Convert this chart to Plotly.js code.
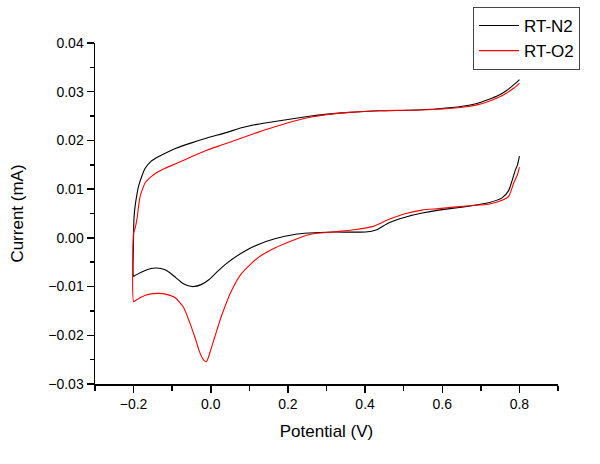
<!DOCTYPE html>
<html>
<head>
<meta charset="utf-8">
<script src="https://cdn.plot.ly/plotly-3.0.1.min.js"></script>
<style>html,body{margin:0;padding:0;background:#fff;}#chart{width:600px;height:464px;}</style>
</head>
<body>
<div id="chart"></div>
<script>
// RT-N2 (black): reverse scan from 0.8 V down to -0.2 V, then forward scan back to 0.8 V
const potentialN2 = [
  0.800,0.795,0.789,0.780,0.772,0.755,0.720,0.669,0.591,0.548,0.506,0.462,0.428,0.402,0.316,0.256,0.217,0.166,0.122,0.080,0.037,0.015,-0.005,-0.025,-0.045,-0.060,-0.075,-0.090,-0.105,-0.120,-0.140,-0.155,-0.170,-0.196,-0.200,
  -0.200,-0.199,-0.196,-0.187,-0.178,-0.170,-0.155,-0.135,-0.110,-0.090,-0.050,-0.010,0.040,0.080,0.120,0.166,0.217,0.260,0.290,0.350,0.437,0.514,0.591,0.652,0.690,0.720,0.745,0.764,0.785,0.800
];
const currentN2 = [
  0.0168,0.0150,0.0138,0.0115,0.0097,0.0082,0.0072,0.0065,0.0057,0.0051,0.0043,0.0031,0.0016,0.0012,0.0012,0.0010,0.0007,-0.0002,-0.0014,-0.0031,-0.0055,-0.0071,-0.0086,-0.0096,-0.0100,-0.0098,-0.0092,-0.0082,-0.0072,-0.0065,-0.0062,-0.0063,-0.0067,-0.0077,-0.0079,
  0.0003,0.0040,0.0065,0.0106,0.0128,0.0143,0.0157,0.0167,0.0177,0.0184,0.0195,0.0205,0.0216,0.0226,0.0233,0.0239,0.0245,0.0250,0.0253,0.0257,0.0261,0.0262,0.0265,0.0270,0.0276,0.0284,0.0292,0.0301,0.0314,0.0325
];
// RT-O2 (red)
const potentialO2 = [
  0.800,0.795,0.785,0.772,0.755,0.720,0.669,0.591,0.548,0.506,0.462,0.419,0.376,0.316,0.256,0.217,0.166,0.122,0.080,0.054,0.028,0.011,0.000,-0.006,-0.011,-0.017,-0.023,-0.030,-0.037,-0.045,-0.054,-0.071,-0.092,-0.115,-0.135,-0.155,-0.170,-0.196,-0.200,
  -0.200,-0.196,-0.191,-0.187,-0.183,-0.176,-0.170,-0.155,-0.140,-0.118,-0.088,-0.049,-0.010,0.030,0.080,0.120,0.166,0.217,0.260,0.300,0.350,0.437,0.514,0.591,0.652,0.690,0.720,0.745,0.764,0.785,0.800
];
const currentO2 = [
  0.0145,0.0130,0.0112,0.0085,0.0077,0.0069,0.0066,0.0060,0.0057,0.0050,0.0038,0.0023,0.0017,0.0012,0.0007,-0.0004,-0.0021,-0.0041,-0.0073,-0.0108,-0.0160,-0.0202,-0.0230,-0.0245,-0.0254,-0.0252,-0.0245,-0.0232,-0.0214,-0.0195,-0.0175,-0.0142,-0.0123,-0.0116,-0.0114,-0.0115,-0.0118,-0.0129,-0.0131,
  0.0010,0.0020,0.0040,0.0065,0.0085,0.0102,0.0113,0.0125,0.0134,0.0143,0.0153,0.0167,0.0180,0.0191,0.0205,0.0216,0.0228,0.0240,0.0248,0.0253,0.0257,0.0261,0.0262,0.0264,0.0268,0.0273,0.0280,0.0288,0.0296,0.0307,0.0317
];
const seriesNames = ['RT-N2', 'RT-O2'];
const xTickVals = [-0.2, 0.0, 0.2, 0.4, 0.6, 0.8];
const yTickVals = [-0.03, -0.02, -0.01, 0.00, 0.01, 0.02, 0.03, 0.04];

const font = 'Liberation Sans, Arial, sans-serif';
const data = [
  {x: potentialN2, y: currentN2, type: 'scatter', mode: 'lines', name: seriesNames[0],
   line: {color: '#000000', width: 1.1, shape: 'spline', smoothing: 0.6}},
  {x: potentialO2, y: currentO2, type: 'scatter', mode: 'lines', name: seriesNames[1],
   line: {color: '#ff0000', width: 1.1, shape: 'spline', smoothing: 0.6}}
];
const layout = {
  width: 600, height: 464,
  margin: {l: 95, r: 42, t: 43, b: 80, autoexpand: false},
  paper_bgcolor: '#ffffff', plot_bgcolor: '#ffffff',
  font: {family: font, color: '#000', size: 14},
  showlegend: true,
  legend: {x: (473 - 95) / 463, y: 1 + (43 - 7) / 341, xanchor: 'left', yanchor: 'top',
    bgcolor: '#ffffff', bordercolor: '#444', borderwidth: 1, itemwidth: 40,
    font: {family: font, size: 17, color: '#000'}, tracegroupgap: 0},
  xaxis: {
    range: [-0.3, 0.9], showgrid: false, zeroline: false,
    showline: true, linecolor: '#000', linewidth: 1.5,
    ticks: 'outside', ticklen: 7, tickwidth: 1.5, tickcolor: '#000',
    tickvals: xTickVals, tickformat: '.1f',
    minor: {dtick: 0.1, tick0: -0.3, ticks: 'outside', ticklen: 5, tickwidth: 1.5, tickcolor: '#000', showgrid: false},
    tickfont: {family: font, size: 14},
    title: {text: 'Potential (V)', font: {family: font, size: 17}, standoff: 14}
  },
  yaxis: {
    range: [-0.03, 0.04], showgrid: false, zeroline: false,
    showline: true, linecolor: '#000', linewidth: 1.5,
    ticks: 'outside', ticklen: 7, tickwidth: 1.5, tickcolor: '#000',
    tickvals: yTickVals, tickformat: '.2f',
    minor: {dtick: 0.005, tick0: 0, ticks: 'outside', ticklen: 4, tickwidth: 1.5, tickcolor: '#000', showgrid: false},
    tickfont: {family: font, size: 14},
    title: {text: 'Current (mA)', font: {family: font, size: 17}, standoff: 20}
  }
};
Plotly.newPlot('chart', data, layout, {displayModeBar: false, staticPlot: true});
</script>
</body>
</html>
